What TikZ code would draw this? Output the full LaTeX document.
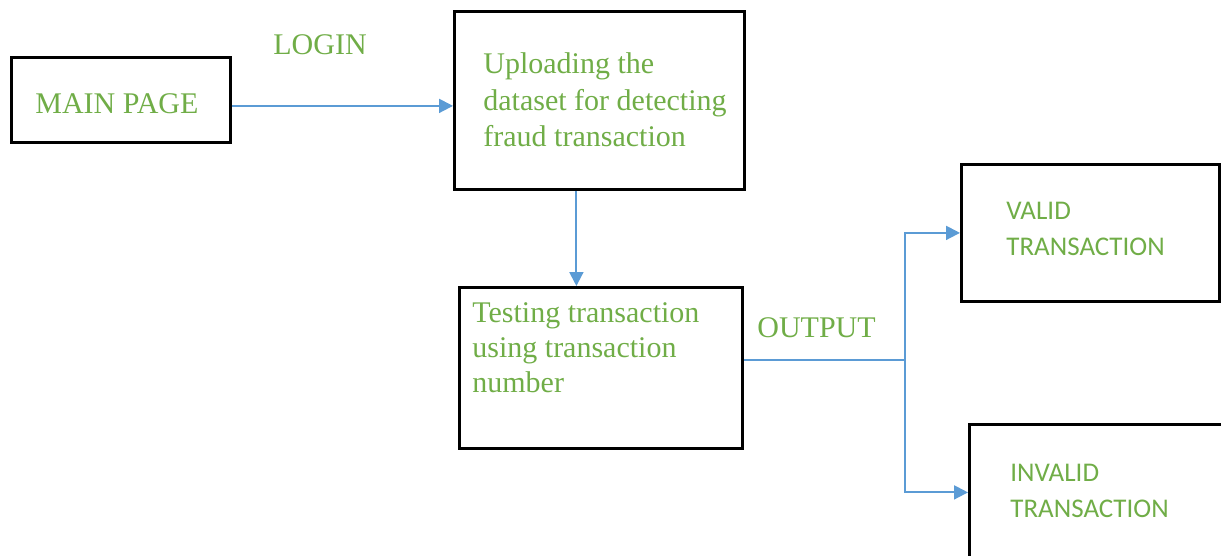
\documentclass[tikz,border=0pt]{standalone}
\usepackage{fontspec}
\setmainfont{Liberation Serif}
\newfontfamily\carlito{Carlito}
\usepackage{xcolor}
\usetikzlibrary{arrows.meta}
\definecolor{txtgreen}{RGB}{112,173,71}
\definecolor{flowblue}{RGB}{91,155,213}

\begin{document}
\begin{tikzpicture}[x=0.5pt, y=-0.5pt]
	\tikzstyle{box}=[draw=black, line width=1.4pt, anchor=north west, inner sep=0pt]
	\tikzstyle{serif}=[text=txtgreen, font=\fontsize{15}{18.25}\selectfont, anchor=base west, inner sep=0pt, align=left]
	\tikzstyle{sans}=[text=txtgreen, font=\carlito\fontsize{13.5}{17.75}\selectfont, anchor=base west, inner sep=0pt, align=left]
	\tikzstyle{flow}=[draw=flowblue, line width=1pt, -{Triangle[length=7pt,width=7pt]}]

	\clip (0,0) rectangle (1221,556);

	% boxes
	\node[box, minimum width=109.5pt, minimum height=42.5pt] at (10,56) (mainpage) {};
	\node[box, minimum width=145pt, minimum height=89pt] at (453,10) (upload) {};
	\node[box, minimum width=141.5pt, minimum height=80.5pt] at (458,286) (testing) {};
	\node[box, minimum width=129pt, minimum height=68.5pt] at (960,163) (valid) {};
	\node[box, minimum width=140pt, minimum height=68pt] at (968,423) (invalid) {};

	% texts (multi-line ones sit on their last baseline)
	\node[serif] at (35,113) (mainpagetxt) {MAIN PAGE};
	\node[serif] at (273,55) (login) {LOGIN};
	\node[serif] at (483,147) (uploadtxt) {Uploading the\\dataset for detecting\\fraud transaction};
	\node[serif, font=\fontsize{15}{17.5}\selectfont] at (472,392) (testingtxt) {Testing transaction\\using transaction\\number};
	\node[serif] at (757,337) (output) {OUTPUT};
	\node[sans] at (1006,255) (validtxt) {VALID\\TRANSACTION};
	\node[sans] at (1010,517) (invalidtxt) {INVALID\\TRANSACTION};

	% connectors
	\coordinate (split) at (905,360);
	\draw[flow] ([yshift=-3pt]mainpage.east) -- ([yshift=-3pt]mainpage.east -| upload.west);
	\draw[flow] ([xshift=-11.5pt]upload.south) -- ([xshift=-11.5pt]upload.south |- testing.north);
	\draw[flow, -] (testing.east |- split) -- (split);
	\draw[flow] (split) |- (valid.west);
	\draw[flow] (split) |- (invalid.west);
\end{tikzpicture}
\end{document}
